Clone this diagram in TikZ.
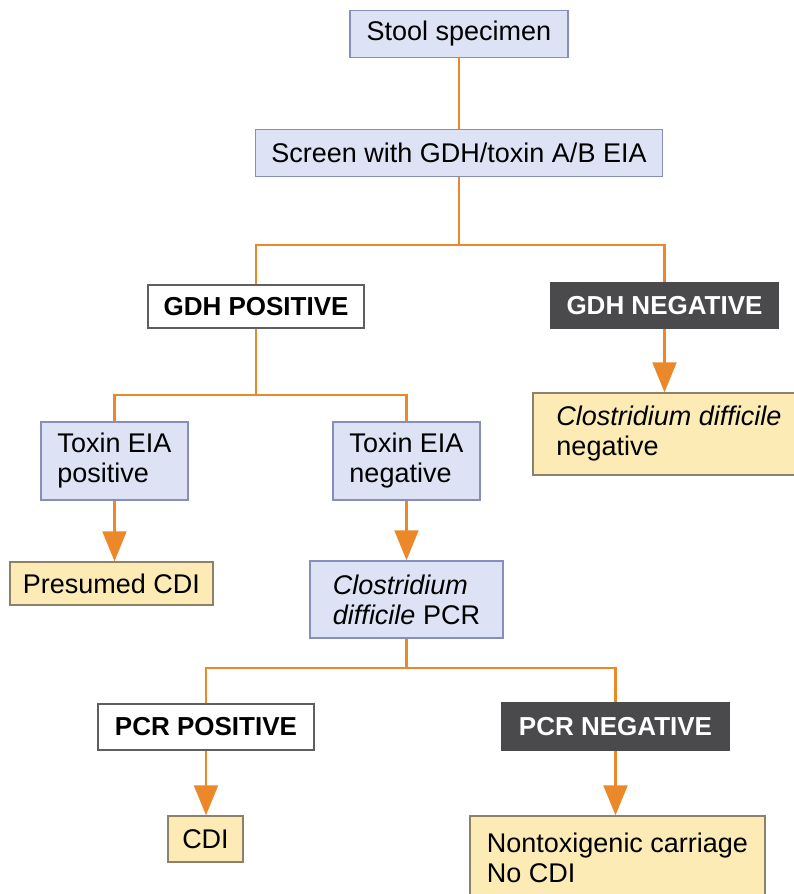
\documentclass[tikz,border=0pt]{standalone}
\usepackage{fontspec}
\setmainfont{Liberation Sans}
\usetikzlibrary{arrows.meta}
\definecolor{boxblue}{RGB}{221,226,245}
\definecolor{bordblue}{RGB}{135,142,190}
\definecolor{boxyel}{RGB}{252,235,180}
\definecolor{bordyel}{RGB}{140,130,105}
\definecolor{darkfill}{RGB}{74,74,76}
\definecolor{lineor}{RGB}{234,136,42}
\definecolor{bordgray}{RGB}{95,95,95}
\tikzset{
  box/.style={rectangle, inner sep=0pt, line width=1.5pt, font=\fontsize{27}{30}\selectfont, align=center},
  bluebox/.style={box, fill=boxblue, draw=bordblue},
  yelbox/.style={box, fill=boxyel, draw=bordyel},
  whitebox/.style={box, fill=white, draw=bordgray, font=\fontsize{26}{30}\selectfont\bfseries},
  darkbox/.style={box, fill=darkfill, draw=darkfill, text=white, font=\fontsize{26}{30}\selectfont\bfseries},
  wh/.style 2 args={minimum width=#1pt, minimum height=#2pt},
  conn/.style={draw=lineor, line width=2.2pt},
  arr/.style={conn, -{Triangle[length=30pt,width=24pt]}}
}
\begin{document}
\begin{tikzpicture}[x=1pt,y=-1pt]
\useasboundingbox (0,0) rectangle (794,894);
\clip (0,0) rectangle (794,894);
\fill[white] (0,0) rectangle (794,894);

\node[bluebox, wh={218}{47}] (stool) at (459,34) {Stool specimen};
\node[bluebox, wh={407}{47}] (screen) at (459,153) {Screen with GDH/toxin A/B EIA};
\coordinate (j1) at (459,245);

\node[whitebox, wh={216}{43}] (gdhpos) at (256,306.5) {GDH POSITIVE};
\node[darkbox, wh={227}{45}] (gdhneg) at (664.5,305.5) {GDH NEGATIVE};
\node[yelbox, wh={272}{82}, align=left] (cdneg) at (669,434) {\itshape Clostridium difficile\\negative};

\coordinate (j2) at (256,395);
\node[bluebox, wh={147}{78}, align=left] (toxpos) at (114.5,461) {Toxin EIA\\positive};
\node[bluebox, wh={147}{78}, align=left] (toxneg) at (406.5,461) {Toxin EIA\\negative};
\node[yelbox, wh={203}{43}] (presumed) at (111.5,583.5) {Presumed CDI};
\node[bluebox, wh={193}{77}, align=left] (pcr) at (406.5,599.5) {{\itshape Clostridium}\\{\itshape difficile} PCR};

\coordinate (j3) at (406.5,668);
\node[whitebox, wh={216}{46}] (pcrpos) at (206,727) {PCR POSITIVE};
\node[darkbox, wh={227}{47}] (pcrneg) at (615.5,726.5) {PCR NEGATIVE};
\node[yelbox, wh={75}{46}] (cdi) at (205.5,839) {CDI};
\node[yelbox, wh={295}{84}, align=left] (nontox) at (617.5,858) {Nontoxigenic carriage\\No CDI};

\draw[conn] (stool.south) -- (screen.north);
\draw[conn] (screen.south) -- (j1);
\draw[conn] (gdhpos.north) |- (j1) -| (gdhneg.north);
\draw[arr] (gdhneg.south) -- (gdhneg.south |- cdneg.north);

\draw[conn] (gdhpos.south) -- (j2);
\draw[conn] (toxpos.north) |- (j2) -| (toxneg.north);
\draw[arr] (toxpos.south) -- (toxpos.south |- presumed.north);
\draw[arr] (toxneg.south) -- (toxneg.south |- pcr.north);

\draw[conn] (pcr.south) -- (j3);
\draw[conn] (pcrpos.north) |- (j3) -| (pcrneg.north);
\draw[arr] (pcrpos.south) -- (pcrpos.south |- cdi.north);
\draw[arr] (pcrneg.south) -- (pcrneg.south |- nontox.north);
\end{tikzpicture}
\end{document}
